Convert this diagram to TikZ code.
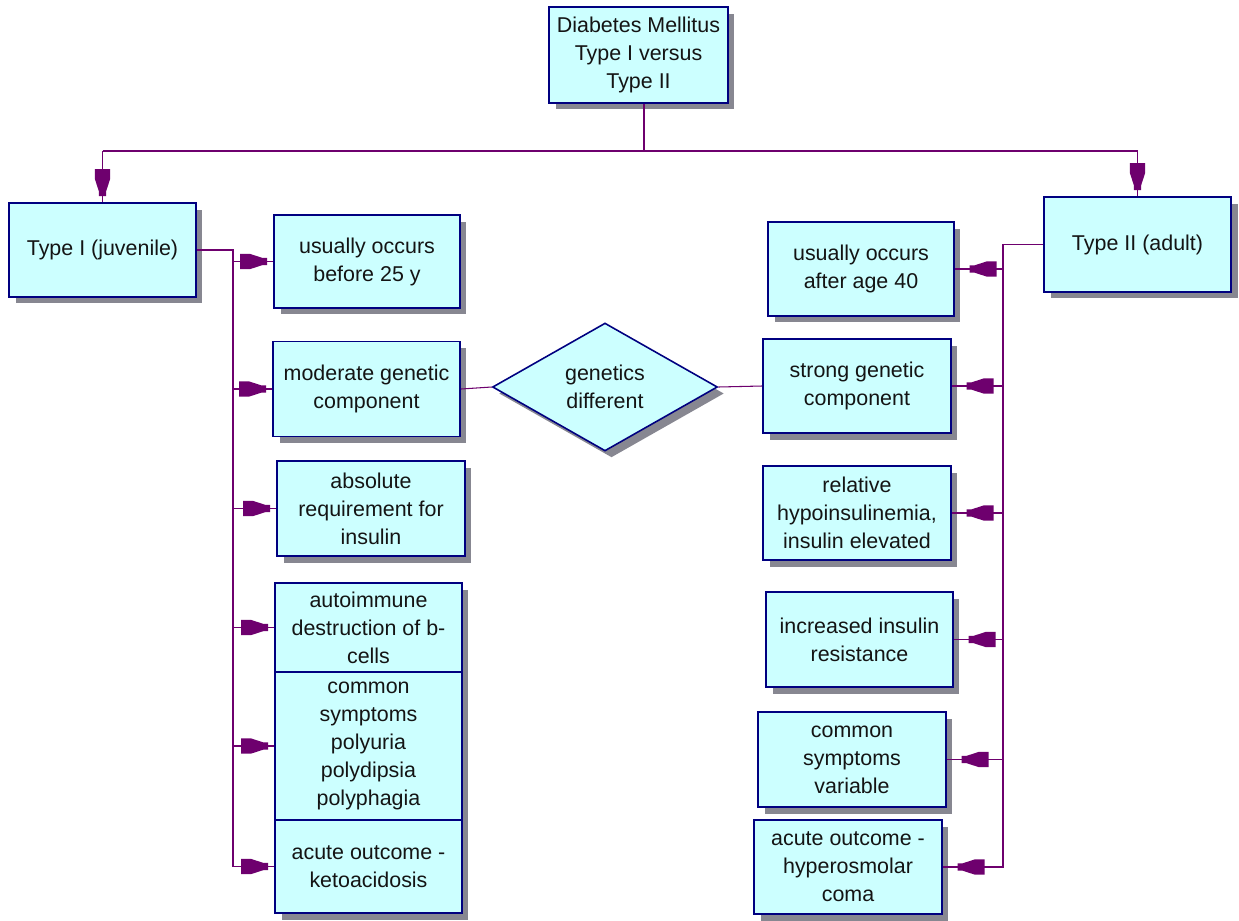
\documentclass[tikz,border=0pt]{standalone}
\usepackage{fontspec}
\setmainfont{Liberation Sans}
\usetikzlibrary{shapes.geometric,shadows,arrows.meta}
\definecolor{boxfill}{RGB}{204,255,255}
\definecolor{boxline}{RGB}{0,0,128}
\definecolor{shadowc}{RGB}{135,135,145}
\definecolor{connc}{RGB}{110,0,110}
\definecolor{textc}{RGB}{20,20,20}

\pgfdeclarearrow{
  name=FatTip,
  setup code={
    \pgfarrowssettipend{0pt}
    \pgfarrowssetlineend{0pt}
    \pgfarrowssetvisualbackend{-18.7pt}
    \pgfarrowssetbackend{-18.7pt}
    \pgfarrowshullpoint{0pt}{0pt}
    \pgfarrowsupperhullpoint{-18.7pt}{4.2pt}
  },
  drawing code={
    \pgfpathmoveto{\pgfqpoint{-18.7pt}{4.3pt}}
    \pgfpathlineto{\pgfqpoint{-13pt}{4.3pt}}
    \pgfpathlineto{\pgfqpoint{-6.2pt}{2.1pt}}
    \pgfpathlineto{\pgfqpoint{-3.4pt}{2.1pt}}
    \pgfpathlineto{\pgfqpoint{-3.4pt}{-2.1pt}}
    \pgfpathlineto{\pgfqpoint{-6.2pt}{-2.1pt}}
    \pgfpathlineto{\pgfqpoint{-13pt}{-4.3pt}}
    \pgfpathlineto{\pgfqpoint{-18.7pt}{-4.3pt}}
    \pgfpathclose
    \pgfusepathqfill
  },
}
\pgfdeclarearrow{
  name=FatTipR,
  setup code={
    \pgfarrowssettipend{0pt}
    \pgfarrowssetlineend{0pt}
    \pgfarrowssetvisualbackend{-23.7pt}
    \pgfarrowssetbackend{-23.7pt}
    \pgfarrowshullpoint{0pt}{0pt}
    \pgfarrowsupperhullpoint{-23.7pt}{4.2pt}
  },
  drawing code={
    \pgfpathmoveto{\pgfqpoint{-23.7pt}{4.3pt}}
    \pgfpathlineto{\pgfqpoint{-18pt}{4.3pt}}
    \pgfpathlineto{\pgfqpoint{-11.2pt}{2.1pt}}
    \pgfpathlineto{\pgfqpoint{-8.4pt}{2.1pt}}
    \pgfpathlineto{\pgfqpoint{-8.4pt}{-2.1pt}}
    \pgfpathlineto{\pgfqpoint{-11.2pt}{-2.1pt}}
    \pgfpathlineto{\pgfqpoint{-18pt}{-4.3pt}}
    \pgfpathlineto{\pgfqpoint{-23.7pt}{-4.3pt}}
    \pgfpathclose
    \pgfusepathqfill
  },
}

\begin{document}
\begin{tikzpicture}[x=0.02cm,y=-0.02cm,
  box/.style={draw=boxline, line width=1.1pt, fill=boxfill, text=textc,
    align=center, inner sep=0pt, minimum width=3.74cm, minimum height=1.88cm,
    font=\fontsize{12.2}{15.9}\selectfont,
    drop shadow={shadow xshift=0.13cm, shadow yshift=-0.13cm, fill=shadowc, opacity=1}},
  diam/.style={box, shape=diamond, line width=0.9pt, minimum width=4.5cm, minimum height=2.56cm},
  conn/.style={draw=connc, line width=1.1pt},
  thinconn/.style={draw=connc, line width=0.6pt}]
\useasboundingbox (0,0) rectangle (1239,920);
\fill[white] (0,0) rectangle (1239,920);

% nodes
\node[box, minimum width=3.58cm, minimum height=1.92cm] (top) at (638.5,55) {Diabetes Mellitus\\Type I versus\\Type II};
\node[box] (t1) at (102.5,250) {Type I (juvenile)};
\node[box, minimum height=1.9cm] (t2) at (1137.5,244.5) {Type II (adult)};

\node[box, minimum width=3.72cm, minimum height=1.86cm] (L1) at (367,261.5) {usually occurs\\before 25 y};
\node[box, minimum height=1.9cm] (L2) at (366.5,389) {moderate genetic\\component};
\node[box, minimum width=3.76cm, minimum height=1.9cm] (L3) at (371,508.5) {absolute\\requirement for\\insulin};
\node[box, minimum height=1.78cm] (L4) at (368.5,627.5) {autoimmune\\destruction of b-\\cells};
\node[box, minimum height=2.96cm] (L5) at (368.5,746) {common\\symptoms\\polyuria\\polydipsia\\polyphagia};
\node[box, minimum height=1.86cm] (L6) at (368.5,866.5) {acute outcome -\\ketoacidosis};

\node[box, minimum width=3.72cm] (R1) at (861,269) {usually occurs\\after age 40};
\node[box, minimum width=3.76cm] (R2) at (857,386) {strong genetic\\component};
\node[box, minimum width=3.76cm] (R3) at (857,513) {relative\\hypoinsulinemia,\\insulin elevated};
\node[box, minimum height=1.9cm] (R4) at (859.5,639.5) {increased insulin\\resistance};
\node[box, minimum width=3.76cm, minimum height=1.9cm] (R5) at (852,759.5) {common\\symptoms\\variable};
\node[box, minimum width=3.76cm] (R6) at (848,867) {acute outcome -\\hyperosmolar\\coma};

\node[diam] (dg) at (605,387) {genetics\\different};

% top connectors
\coordinate (hb) at (644,151);
\draw[conn] (hb |- top.south) -- (hb);
\draw[conn] (t1.north |- hb) -- (t2.north |- hb);
\draw[conn,-FatTip] (t1.north |- hb) -- (t1.north);
\draw[conn,-FatTip] (t2.north |- hb) -- (t2.north);

% left bus
\coordinate (lb) at (233,254);
\draw[conn,-FatTip] (t1.east) -- (lb |- t1.east) -- (lb |- L6.west) -- (L6.west);
\foreach \n in {L1,L2,L3,L4,L5}
  \draw[conn,-FatTip] (lb |- \n.west) -- (\n.west);

% right bus
\coordinate (rb) at (1003,247);
\draw[conn,-FatTipR] (t2.west) -- (rb |- t2.west) -- (rb |- R6.east) -- (R6.east);
\foreach \n in {R1,R2,R3,R4,R5}
  \draw[conn,-FatTipR] (rb |- \n.east) -- (\n.east);

% diamond links
\draw[thinconn] (L2.east) -- (dg.west);
\draw[thinconn] (dg.east) -- (R2.west);
\end{tikzpicture}
\end{document}
